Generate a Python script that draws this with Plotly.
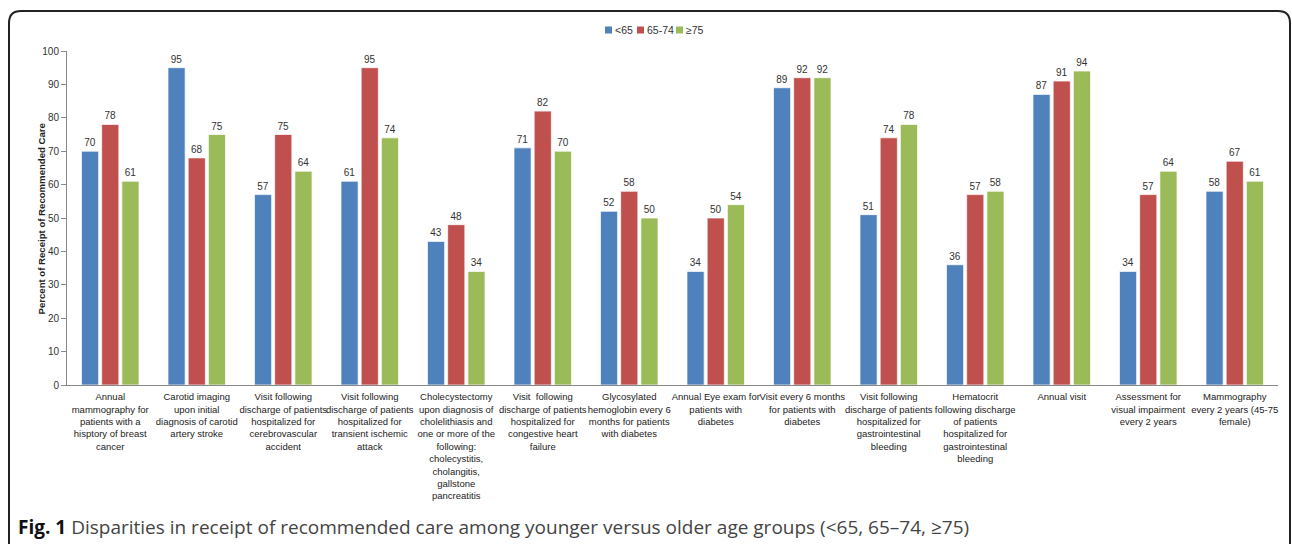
import plotly.graph_objects as go

categories = ["c1", "c2", "c3", "c4", "c5", "c6", "c7", "c8", "c9", "c10", "c11", "c12", "c13", "c14"]
tick_labels = [
    "Annual<br>mammography for<br>patients with a<br>hisptory of breast<br>cancer",
    "Carotid imaging<br>upon initial<br>diagnosis of carotid<br>artery stroke",
    "Visit following<br>discharge of patients<br>hospitalized for<br>cerebrovascular<br>accident",
    "Visit following<br>discharge of patients<br>hospitalized for<br>transient ischemic<br>attack",
    "Cholecystectomy<br>upon diagnosis of<br>cholelithiasis and<br>one or more of the<br>following:<br>cholecystitis,<br>cholangitis,<br>gallstone<br>pancreatitis",
    "Visit  following<br>discharge of patients<br>hospitalized for<br>congestive heart<br>failure",
    "Glycosylated<br>hemoglobin every 6<br>months for patients<br>with diabetes",
    "Annual Eye exam for<br>patients with<br>diabetes",
    "Visit every 6 months<br>for patients with<br>diabetes",
    "Visit following<br>discharge of patients<br>hospitalized for<br>gastrointestinal<br>bleeding",
    "Hematocrit<br>following discharge<br>of patients<br>hospitalized for<br>gastrointestinal<br>bleeding",
    "Annual visit",
    "Assessment for<br>visual impairment<br>every 2 years",
    "Mammography<br>every 2 years (45-75<br>female)",
]
series_names = ["<65", "65-74", "≥75"]
under_65 = [70, 95, 57, 61, 43, 71, 52, 34, 89, 51, 36, 87, 34, 58]
age_65_74 = [78, 68, 75, 95, 48, 82, 58, 50, 92, 74, 57, 91, 57, 67]
age_75_plus = [61, 75, 64, 74, 34, 70, 50, 54, 92, 78, 58, 94, 64, 61]
colors = ["#4F81BD", "#C0504D", "#9BBB59"]

W, H = 1292, 544
L, R, T, B = 67, 14, 51, 159
PW, PH = W - L - R, H - T - B
NARROW = "Liberation Sans Narrow, Liberation Sans, sans-serif"


def px(x):
    return (x - L) / PW


def py(y):
    return (H - B - y) / PH


fig = go.Figure()
for name, vals, col in zip(series_names, [under_65, age_65_74, age_75_plus], colors):
    fig.add_trace(go.Bar(
        x=categories, y=vals, name=name,
        marker=dict(color=col, line=dict(color="rgba(255,255,255,0.7)", width=1)),
        text=[str(v) for v in vals], textposition="outside",
        textfont=dict(size=10, color="#333333", family=NARROW),
        cliponaxis=False, showlegend=False,
    ))

fig.update_layout(
    width=W, height=H,
    margin=dict(l=L, r=R, t=T, b=B),
    paper_bgcolor="white", plot_bgcolor="white",
    barmode="group", bargap=0.3, bargroupgap=0.15,
    font=dict(family=NARROW, color="#333333"),
    showlegend=False,
    xaxis=dict(tickmode="array", tickvals=categories, ticktext=tick_labels,
               tickfont=dict(size=9.5, color="#222222"), showline=True, linecolor="#888888",
               linewidth=1, ticks="", showgrid=False, tickangle=0, ticklabelstandoff=3),
    yaxis=dict(range=[0, 100], dtick=10, tickfont=dict(size=10, color="#333333"),
               showline=True, linecolor="#888888", linewidth=1, ticks="outside",
               ticklen=5, tickcolor="#888888", showgrid=False, zeroline=False),
)

# Legend (compact, Excel style)
legend_x = [605, 637, 676]
for lx, name, col in zip(legend_x, series_names, colors):
    fig.add_shape(type="rect", xref="paper", yref="paper",
                  x0=px(lx), x1=px(lx + 7), y0=py(33.5), y1=py(26.5),
                  fillcolor=col, line=dict(width=0))
    fig.add_annotation(x=px(lx + 8), y=py(30), xref="paper", yref="paper",
                       xanchor="left", yanchor="middle", text=name, showarrow=False,
                       font=dict(size=10.5, color="#333333", family=NARROW))

fig.add_annotation(x=px(33), y=py(219), xref="paper", yref="paper",
                   text="<b>Percent of Receipt of Recommended Care</b>", textangle=-90,
                   showarrow=False, font=dict(size=9.6, color="#222222", family=NARROW))

fig.add_annotation(x=px(16), y=py(527), xref="paper", yref="paper", xanchor="left", yanchor="middle",
                   text="<b>Fig. 1</b> <span style='color:#444444'>Disparities in receipt of recommended care among younger versus older age groups (&lt;65, 65–74, ≥75)</span>",
                   showarrow=False, font=dict(size=19, color="#111111", family="Open Sans, sans-serif"))

# Rounded frame
x0, x1, y0, yb, r = px(9), px(1290), py(11), py(560), 12
rx, ry = r / PW, r / PH
path = (f"M {x0},{yb} L {x0},{y0 - ry} Q {x0},{y0} {x0 + rx},{y0} "
        f"L {x1 - rx},{y0} Q {x1},{y0} {x1},{y0 - ry} L {x1},{yb}")
fig.add_shape(type="path", path=path, xref="paper", yref="paper",
              line=dict(color="#222222", width=2))

fig.write_html("out.html")
